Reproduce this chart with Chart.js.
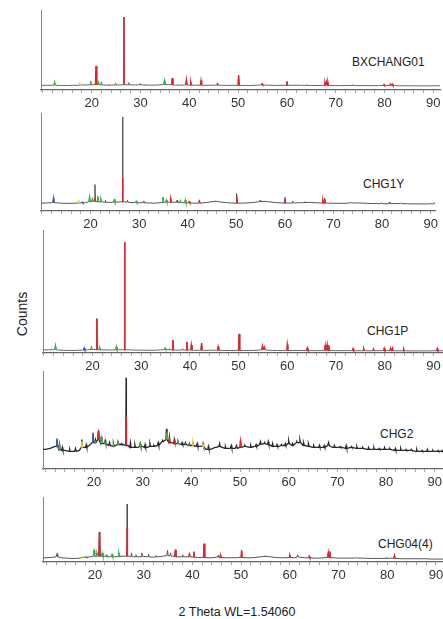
<!DOCTYPE html>
<html>
<head>
<meta charset="utf-8">
<script src="https://cdn.jsdelivr.net/npm/chart.js@4.4.0/dist/chart.umd.min.js"></script>
<style>
  body { margin: 0; width: 443px; height: 619px; overflow: hidden; background: #fff; position: relative;
         font-family: "Liberation Sans", Arial, sans-serif; }
  canvas { position: absolute; }
  .lbl { position: absolute; font-size: 12px; color: #222; white-space: nowrap; transform: translateY(-50%); }
  #counts { position: absolute; left: 22px; top: 314px; font-size: 14px; color: #222;
            transform: translate(-50%, -50%) rotate(-90deg); }
  #xtitle { position: absolute; left: 237px; top: 612px; font-size: 12.5px; color: #222; white-space: nowrap;
            transform: translate(-50%, -50%); }
</style>
</head>
<body>
<div class="lbl" style="left:352px; top:62px">BXCHANG01</div>
<div class="lbl" style="left:363px; top:184px">CHG1Y</div>
<div class="lbl" style="left:367px; top:331px">CHG1P</div>
<div class="lbl" style="left:380px; top:434px">CHG2</div>
<div class="lbl" style="left:378px; top:544px">CHG04(4)</div>
<div id="counts">Counts</div>
<div id="xtitle">2 Theta WL=1.54060</div>

<script>
// 2-theta positions of the background readings (one per degree)
const twoTheta = [
    9, 10, 11, 12, 13, 14, 15, 16, 17, 18,
    19, 20, 21, 22, 23, 24, 25, 26, 27, 28,
    29, 30, 31, 32, 33, 34, 35, 36, 37, 38,
    39, 40, 41, 42, 43, 44, 45, 46, 47, 48,
    49, 50, 51, 52, 53, 54, 55, 56, 57, 58,
    59, 60, 61, 62, 63, 64, 65, 66, 67, 68,
    69, 70, 71, 72, 73, 74, 75, 76, 77, 78,
    79, 80, 81, 82, 83, 84, 85, 86, 87, 88,
    89, 90, 91, 92
];

// Background level of each pattern (percent of panel height)
const bg1 = [
    3.0, 3.0, 3.0, 3.2, 3.0, 2.8, 2.8, 3.0, 3.0, 3.3,
    3.5, 3.8, 3.8, 3.5, 3.3, 3.2, 3.4, 3.5, 4.0, 3.6,
    3.4, 3.6, 3.3, 3.2, 3.3, 3.6, 4.2, 3.8, 3.4, 3.2,
    3.4, 3.3, 3.2, 3.1, 3.0, 3.1, 3.3, 3.2, 3.0, 2.9,
    3.0, 3.0, 2.9, 2.8, 2.9, 3.2, 3.6, 3.2, 3.0, 2.9,
    3.0, 3.1, 3.0, 3.2, 3.0, 2.9, 2.8, 2.8, 2.9, 3.0,
    2.8, 2.7, 2.7, 2.8, 2.9, 2.7, 2.6, 2.7, 2.6, 2.6,
    2.7, 2.8, 2.8, 2.7, 2.5, 2.5, 2.4, 2.4, 2.3, 2.4,
    2.3, 2.5, 2.4, 2.4
];
const bg2 = [
    8.0, 8.0, 8.2, 8.5, 8.3, 8.0, 7.8, 7.8, 8.0, 8.2,
    8.5, 9.5, 10.0, 9.5, 9.0, 8.8, 9.0, 9.3, 9.5, 8.8,
    8.5, 8.3, 8.5, 8.2, 8.0, 8.3, 8.8, 9.0, 9.0, 8.8,
    8.5, 8.3, 8.0, 8.0, 8.2, 8.8, 9.5, 9.8, 9.0, 8.5,
    8.2, 8.0, 8.0, 8.2, 8.5, 9.0, 9.6, 9.8, 9.2, 8.6,
    8.3, 8.2, 8.0, 8.2, 8.4, 8.6, 8.8, 8.5, 8.3, 8.2,
    8.0, 7.9, 7.8, 7.9, 8.0, 8.2, 8.3, 8.0, 7.8, 7.6,
    7.6, 7.5, 7.4, 7.5, 7.6, 7.5, 7.4, 7.3, 7.3, 7.2,
    7.2, 7.4, 7.2, 7.1
];
const bg3 = [
    2.5, 2.5, 2.6, 2.8, 2.4, 2.2, 2.1, 2.1, 2.2, 2.4,
    2.6, 2.8, 2.8, 2.6, 2.5, 2.4, 2.6, 2.7, 2.6, 2.5,
    2.3, 2.3, 2.2, 2.2, 2.3, 2.5, 2.8, 2.6, 2.4, 2.3,
    2.4, 2.3, 2.2, 2.2, 2.1, 2.2, 2.3, 2.2, 2.1, 2.0,
    2.0, 2.1, 2.0, 2.0, 2.1, 2.3, 2.5, 2.3, 2.1, 2.0,
    2.0, 2.1, 2.0, 2.1, 2.0, 2.0, 1.9, 1.9, 2.0, 2.1,
    2.0, 1.9, 1.9, 1.9, 2.0, 1.9, 1.8, 1.9, 1.8, 1.8,
    1.9, 1.9, 1.9, 1.8, 1.8, 1.8, 1.7, 1.7, 1.7, 1.7,
    1.7, 1.8, 1.8, 1.8
];
const bg4 = [
    20, 20, 21, 23, 20, 19, 18, 18, 19, 22,
    24, 27, 30, 26, 24, 23, 25, 25, 24, 22,
    22, 23, 22, 23, 24, 28, 30, 27, 26, 25,
    25, 24, 23, 23, 20, 20, 22, 23, 21, 21,
    21, 22, 23, 22, 23, 25, 26, 25, 23, 23,
    24, 26, 24, 27, 24, 23, 22, 22, 22, 24,
    22, 22, 22, 21, 22, 21, 21, 20, 20, 20,
    20, 20, 20, 19, 19, 19, 19, 18, 18, 18,
    18, 18, 18, 18
];
const bg5 = [
    6.5, 6.5, 7.0, 8.0, 6.5, 6.0, 5.5, 5.5, 6.0, 7.0,
    8.0, 9.0, 9.0, 8.5, 8.0, 8.0, 8.5, 9.0, 9.0, 8.0,
    8.0, 8.5, 8.0, 7.5, 8.0, 9.0, 10.0, 9.0, 8.0, 8.0,
    8.0, 7.5, 7.0, 7.0, 6.5, 6.5, 7.5, 7.0, 6.5, 6.5,
    6.5, 7.0, 6.5, 6.5, 7.0, 8.0, 8.5, 8.0, 7.0, 6.5,
    6.5, 7.0, 6.5, 7.5, 6.5, 6.5, 6.0, 6.0, 6.5, 7.0,
    6.5, 6.0, 6.0, 6.0, 6.0, 6.0, 6.0, 5.5, 5.5, 5.5,
    5.5, 5.5, 6.0, 5.5, 5.0, 5.0, 5.0, 5.0, 5.0, 5.0,
    4.5, 4.5, 4.5, 4.5
];

// Peaks: [2theta, top of trace, top of phase mark, phase colour (r/g/y/b, k = none)]
const peaks1 = [
    [12.4, 7, 7, 'g'], [17.6, 5, 5, 'y'], [18.3, 4.5, 0, 'k'], [19.8, 8, 8, 'g'],
    [20.9, 28, 28, 'r'], [21.4, 7, 7, 'g'], [22.0, 6, 6, 'g'], [23.5, 4.5, 0, 'k'],
    [24.9, 5, 5, 'g'], [26.6, 91, 91, 'r'], [27.6, 6.5, 0, 'k'], [29.9, 5, 0, 'k'],
    [31.0, 4.5, 0, 'k'], [34.9, 9, 9, 'g'], [36.5, 12, 12, 'r'], [39.4, 10, 10, 'r'],
    [40.3, 7, 7, 'r'], [42.4, 9, 9, 'r'], [45.8, 5, 5, 'r'], [50.1, 16, 16, 'r'],
    [54.9, 5, 5, 'r'], [60.0, 8, 8, 'r'], [64.0, 4, 0, 'k'], [67.8, 6.5, 6.5, 'r'],
    [68.1, 7, 7, 'r'], [68.4, 7, 7, 'r'], [73.5, 4, 0, 'k'], [79.9, 4, 4, 'r'],
    [81.2, 4.5, 4.5, 'r'], [81.6, 4.5, 4.5, 'r']
];
const peaks2 = [
    [12.4, 14, 13, 'b'], [17.6, 9.5, 9.5, 'y'], [18.3, 9, 9, 'b'], [19.8, 15, 14, 'g'],
    [20.4, 13, 12, 'g'], [20.9, 27, 14, 'r'], [21.5, 15, 14, 'g'], [22.1, 13, 12, 'g'],
    [23.0, 11, 0, 'k'], [24.9, 12, 11, 'g'], [26.6, 96, 34, 'r'], [27.6, 11, 0, 'k'],
    [29.4, 10, 10, 'g'], [30.9, 10, 0, 'k'], [34.9, 14, 13, 'g'], [35.6, 11, 11, 'g'],
    [36.5, 13, 12, 'r'], [37.8, 11, 0, 'k'], [38.5, 10.5, 10.5, 'g'], [39.5, 11, 11, 'g'],
    [40.3, 9.5, 9.5, 'r'], [42.4, 11, 10, 'r'], [45.8, 10.5, 0, 'k'], [50.1, 18, 14, 'r'],
    [54.9, 11, 0, 'k'], [60.0, 14, 12, 'r'], [61.6, 10, 0, 'k'], [64.0, 9.5, 0, 'k'],
    [67.8, 11, 11, 'r'], [68.2, 13, 12, 'r'], [73.5, 9, 0, 'k'], [75.6, 8.5, 0, 'k'],
    [79.9, 8.5, 0, 'k'], [81.5, 9, 0, 'k'], [83.8, 8, 0, 'k'], [90.8, 8.5, 0, 'k']
];
const peaks3 = [
    [12.4, 6, 6, 'g'], [18.3, 4, 4, 'b'], [19.8, 4.5, 4.5, 'g'], [20.9, 28, 28, 'r'],
    [21.5, 4, 4, 'g'], [24.9, 5, 5, 'g'], [26.6, 90, 90, 'r'], [34.9, 4, 4, 'g'],
    [35.9, 3.5, 0, 'k'], [36.5, 10.5, 10.5, 'r'], [38.5, 3.5, 0, 'k'], [39.4, 9, 9, 'r'],
    [40.3, 6.5, 6.5, 'r'], [42.4, 8, 8, 'r'], [45.8, 5, 5, 'r'], [50.1, 15.5, 15.5, 'r'],
    [54.9, 5.5, 5.5, 'r'], [55.3, 4.5, 4.5, 'r'], [60.0, 7, 7, 'r'], [64.1, 4, 4, 'r'],
    [67.8, 6, 6, 'r'], [68.2, 6.5, 6.5, 'r'], [68.5, 6, 6, 'r'], [73.5, 3.5, 3.5, 'r'],
    [75.7, 3.5, 3.5, 'r'], [77.7, 3.2, 3.2, 'r'], [79.9, 3.8, 3.8, 'r'], [81.2, 3.8, 3.8, 'r'],
    [81.6, 3.8, 3.8, 'r'], [83.9, 3.2, 3.2, 'r'], [90.8, 3.5, 3.5, 'r']
];
const peaks4 = [
    [12.4, 31, 29, 'b'], [12.9, 25, 24, 'g'], [13.5, 22, 0, 'k'], [15.0, 20, 0, 'k'],
    [16.2, 21, 0, 'k'], [17.5, 30, 28, 'y'], [18.4, 25, 0, 'k'], [19.8, 37, 34, 'b'],
    [20.3, 30, 28, 'g'], [20.9, 39, 36, 'r'], [21.5, 33, 31, 'g'], [22.3, 29, 27, 'g'],
    [23.2, 27, 0, 'k'], [24.0, 26, 25, 'g'], [24.9, 29, 27, 'g'], [25.6, 26, 0, 'k'],
    [26.6, 93, 53, 'r'], [27.5, 27, 0, 'k'], [28.4, 25, 0, 'k'], [29.5, 26, 25, 'g'],
    [30.5, 25, 0, 'k'], [31.5, 26, 0, 'k'], [32.3, 24, 0, 'k'], [33.2, 27, 0, 'k'],
    [34.1, 29, 0, 'k'], [34.9, 41, 37, 'g'], [35.5, 33, 31, 'r'], [36.5, 30, 28, 'r'],
    [37.2, 30, 28, 'g'], [38.1, 27, 0, 'k'], [38.8, 27, 26, 'b'], [39.6, 26, 25, 'g'],
    [40.3, 28, 27, 'y'], [41.2, 26, 0, 'k'], [42.4, 26, 25, 'y'], [43.5, 23, 0, 'k'],
    [45.0, 22, 0, 'k'], [45.8, 26, 0, 'k'], [47.0, 23, 0, 'k'], [48.2, 24, 0, 'k'],
    [49.3, 24, 0, 'k'], [50.1, 30, 28, 'r'], [51.0, 24, 0, 'k'], [52.2, 24, 0, 'k'],
    [53.3, 25, 0, 'k'], [54.2, 28, 0, 'k'], [55.0, 28, 0, 'k'], [55.8, 28, 0, 'k'],
    [56.7, 26, 0, 'k'], [57.6, 25, 0, 'k'], [58.5, 25, 0, 'k'], [59.3, 26, 0, 'k'],
    [60.0, 29, 0, 'k'], [60.8, 26, 0, 'k'], [61.7, 28, 0, 'k'], [62.3, 30, 0, 'k'],
    [63.1, 27, 0, 'k'], [64.1, 26, 0, 'k'], [65.2, 24, 0, 'k'], [66.3, 24, 0, 'k'],
    [67.3, 24, 0, 'k'], [68.2, 27, 0, 'k'], [69.4, 24, 0, 'k'], [70.6, 23, 0, 'k'],
    [71.8, 24, 0, 'k'], [72.9, 23, 0, 'k'], [74.0, 23, 0, 'k'], [75.2, 22, 0, 'k'],
    [76.4, 22, 0, 'k'], [77.5, 22, 0, 'k'], [78.6, 21, 0, 'k'], [79.7, 22, 0, 'k'],
    [80.8, 21, 0, 'k'], [81.9, 21, 0, 'k'], [83.0, 21, 0, 'k'], [84.1, 20, 0, 'k'],
    [85.2, 20, 0, 'k'], [86.3, 20, 0, 'k'], [87.4, 19, 0, 'k'], [88.5, 20, 0, 'k'],
    [89.6, 19, 0, 'k'], [90.7, 19, 0, 'k'], [91.5, 19, 0, 'k']
];
const peaks5 = [
    [12.2, 13, 0, 'k'], [17.5, 8, 8, 'y'], [18.2, 8, 8, 'g'], [19.8, 18, 16, 'g'],
    [20.4, 14, 13, 'g'], [20.9, 46, 46, 'r'], [21.5, 14, 13, 'g'], [22.3, 11, 10, 'g'],
    [23.5, 12, 11, 'g'], [24.9, 14, 13, 'g'], [26.6, 89, 52, 'r'], [27.5, 14, 0, 'k'],
    [28.4, 11, 0, 'k'], [29.6, 14, 0, 'k'], [31.0, 12, 0, 'k'], [32.5, 10, 0, 'k'],
    [34.9, 18, 0, 'k'], [35.5, 14, 0, 'k'], [36.5, 19, 18, 'r'], [38.0, 11, 0, 'k'],
    [39.4, 13, 12, 'r'], [40.3, 16, 15, 'r'], [42.4, 28, 28, 'r'], [45.3, 10, 0, 'k'],
    [45.8, 10, 10, 'r'], [50.1, 18, 18, 'r'], [55.0, 10, 0, 'k'], [60.0, 11, 10, 'r'],
    [61.6, 11, 0, 'k'], [64.0, 9, 9, 'r'], [67.9, 14, 14, 'r'], [68.2, 16, 16, 'r'],
    [73.5, 7, 0, 'k'], [79.9, 7, 0, 'k'], [81.5, 10, 10, 'r']
];

const phaseColors = { r: '#e3232c', g: '#45b04a', y: '#e6d23c', b: '#3355cc' };

// Panel placement on the page
const panels = [
    { bg: bg1, peaks: peaks1, L: 41, R: 440, T: 10,  B: 90,  xMin: 9.61, xMax: 91.37, yMin: -3, line: '#666', lw: 1 },
    { bg: bg2, peaks: peaks2, L: 41, R: 435, T: 113, B: 211, xMin: 9.8,  xMax: 90.9,  yMin: 0,  line: '#555', lw: 1 },
    { bg: bg3, peaks: peaks3, L: 43, R: 443, T: 230, B: 353, xMin: 9.84, xMax: 91.97, yMin: 0,  line: '#666', lw: 1 },
    { bg: bg4, peaks: peaks4, L: 43, R: 443, T: 371, B: 469, xMin: 9.53, xMax: 91.7,  yMin: 0,  line: '#2a2a2a', lw: 1.3 },
    { bg: bg5, peaks: peaks5, L: 43, R: 443, T: 497, B: 562, xMin: 9.32, xMax: 91.46, yMin: 0,  line: '#555', lw: 1 }
];

Chart.defaults.font.family = '"Liberation Sans", Arial, sans-serif';

function baseAt(bg, pos) {
    return bg[Math.round(pos) - twoTheta[0]];
}

function halfWidth(top) {
    return top > 50 ? 0.06 : 0.13;
}

// Measured trace: background readings plus each peak
function buildTrace(bg, peaks) {
    const pts = twoTheta.map((x, i) => ({ x: x, y: bg[i] }));
    peaks.forEach(p => {
        const w = halfWidth(p[1]);
        const base = baseAt(bg, p[0]);
        pts.push({ x: p[0] - w, y: base }, { x: p[0], y: p[1] }, { x: p[0] + w, y: base });
    });
    pts.sort((a, b) => a.x - b.x);
    return pts;
}

// Phase identification marks of one colour
function buildMarks(bg, peaks, col) {
    const pts = [];
    peaks.filter(p => p[3] === col && p[2] > 0).forEach(p => {
        const w = halfWidth(p[1]);
        const base = baseAt(bg, p[0]);
        pts.push({ x: p[0] - w, y: base }, { x: p[0], y: p[2] }, { x: p[0] + w, y: base },
                 { x: p[0] + w + 0.01, y: null });
    });
    return pts;
}

const PAD_L = 10, PAD_T = 4, PAD_R = 12, AXIS_H = 26;

panels.forEach(panel => {
    const canvas = document.createElement('canvas');
    const w = panel.R - panel.L + PAD_L + PAD_R;
    const h = panel.B - panel.T + PAD_T + AXIS_H;
    canvas.width = w;
    canvas.height = h;
    canvas.style.width = w + 'px';
    canvas.style.height = h + 'px';
    canvas.style.left = (panel.L - PAD_L) + 'px';
    canvas.style.top = (panel.T - PAD_T) + 'px';
    document.body.appendChild(canvas);

    const datasets = ['r', 'g', 'y', 'b'].map(col => ({
        data: buildMarks(panel.bg, panel.peaks, col),
        borderColor: phaseColors[col],
        borderWidth: 1.4,
        pointRadius: 0,
        tension: 0,
        order: 1
    }));
    datasets.push({
        data: buildTrace(panel.bg, panel.peaks),
        borderColor: panel.line,
        borderWidth: panel.lw,
        pointRadius: 0,
        tension: 0,
        order: 5
    });

    new Chart(canvas.getContext('2d'), {
        type: 'line',
        data: { datasets: datasets },
        options: {
            responsive: false,
            animation: false,
            layout: { padding: { left: 0, top: PAD_T, right: PAD_R, bottom: 0 } },
            plugins: { legend: { display: false }, tooltip: { enabled: false } },
            scales: {
                x: {
                    type: 'linear',
                    min: panel.xMin,
                    max: panel.xMax,
                    border: { color: '#666', width: 1.2 },
                    grid: { drawOnChartArea: false, drawTicks: true, tickLength: 3, color: '#aaa' },
                    ticks: {
                        stepSize: 2,
                        includeBounds: false,
                        autoSkip: false,
                        maxRotation: 0,
                        padding: 3,
                        color: '#333',
                        font: { size: 13 },
                        callback: function(value) {
                            return (value % 10 === 0 && value >= 20) ? String(value) : '';
                        }
                    },
                    afterFit: function(scale) { scale.height = AXIS_H; }
                },
                y: {
                    min: panel.yMin,
                    max: 100,
                    ticks: { display: false },
                    grid: { display: false },
                    border: { color: '#888', width: 1 },
                    afterFit: function(scale) { scale.width = PAD_L; }
                }
            }
        }
    });
});
</script>
</body>
</html>
